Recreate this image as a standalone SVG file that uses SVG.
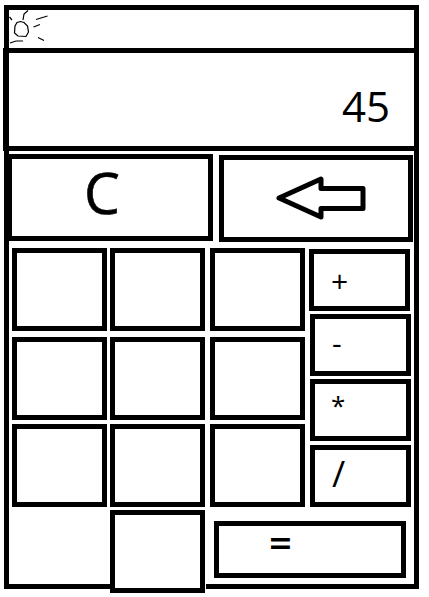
<svg xmlns="http://www.w3.org/2000/svg" width="429" height="597" viewBox="0 0 429 597">
<style>
.b{fill:#fff;stroke:#000;stroke-width:5}
.f{fill:#000}
.t{font-family:"Open Sans","Noto Sans",sans-serif;fill:#000}
.s{fill:none;stroke:#000;stroke-width:1.2}
</style>
<rect width="429" height="597" fill="#fff"/>
<g id="frame">
<rect class="f" x="4" y="5" width="415" height="5"/>
<rect class="f" x="4" y="5" width="5" height="584"/>
<rect class="f" x="414" y="5" width="5" height="584"/>
<rect class="f" x="4" y="584" width="415" height="5"/>
<rect class="f" x="3" y="48" width="6" height="103"/>
<rect class="f" x="8" y="48" width="408" height="5"/>
<rect class="f" x="8" y="146" width="408" height="5"/>
</g>
<g id="sun">
<path class="s" d="M20.500 21.500L17 22.500L15 26L14.500 33L18 36L26 36.500L28.500 32L27.500 26L24 22.500Z"/>
<path class="s" d="M9.500 17L12 20M23 20L24 14L28 10.500M36 19.500L47.500 16M33.500 27L40 24.500M38 37.500L44 40.500M10 43L16 41L23 41"/>
</g>
<g id="btn-c"><rect class="b" x="9.500" y="156.500" width="201" height="82"/><text class="t" x="84" y="214" font-size="57" stroke="#000" stroke-width="0.6">C</text></g>
<g id="btn-back"><rect class="b" x="221.500" y="157.500" width="189" height="82"/><path d="M279 198L321 179V188.500H363V208.500H321V217Z" fill="#fff" stroke="#000" stroke-width="5" stroke-linejoin="round"/></g>
<g id="display"><text class="t" x="342" y="122" font-size="42">45</text></g>
<g id="key-1"><rect class="b" x="14.500" y="250.500" width="90" height="78"/></g>
<g id="key-2"><rect class="b" x="112.500" y="250.500" width="90" height="78"/></g>
<g id="key-3"><rect class="b" x="212.500" y="250.500" width="90" height="78"/></g>
<g id="key-4"><rect class="b" x="14.500" y="339.500" width="90" height="78"/></g>
<g id="key-5"><rect class="b" x="112.500" y="339.500" width="90" height="78"/></g>
<g id="key-6"><rect class="b" x="212.500" y="339.500" width="90" height="78"/></g>
<g id="key-7"><rect class="b" x="14.500" y="426.500" width="90" height="78"/></g>
<g id="key-8"><rect class="b" x="112.500" y="426.500" width="90" height="78"/></g>
<g id="key-9"><rect class="b" x="212.500" y="426.500" width="90" height="78"/></g>
<g id="key-0"><rect x="205" y="584" width="1" height="5" fill="#fff"/><rect class="b" x="112.500" y="512.500" width="90" height="78"/></g>
<g id="op-plus"><rect class="b" x="311.500" y="251.500" width="96" height="57"/><text class="t" x="331" y="292" font-size="30">+</text></g>
<g id="op-minus"><rect class="b" x="312.500" y="316.500" width="96" height="57"/><text class="t" x="332" y="354" font-size="30">-</text></g>
<g id="op-mul"><rect class="b" x="312.500" y="381.500" width="96" height="57"/><text class="t" x="331" y="415" font-size="26">*</text></g>
<g id="op-div"><rect class="b" x="312.500" y="447.500" width="96" height="57"/><text class="t" x="332" y="487" font-size="36">/</text></g>
<g id="op-eq"><rect class="b" x="216.500" y="523.500" width="187" height="52"/><text class="t" x="269" y="557" font-size="40" font-weight="600">=</text></g>
<g id="connectors"></g>
</svg>
